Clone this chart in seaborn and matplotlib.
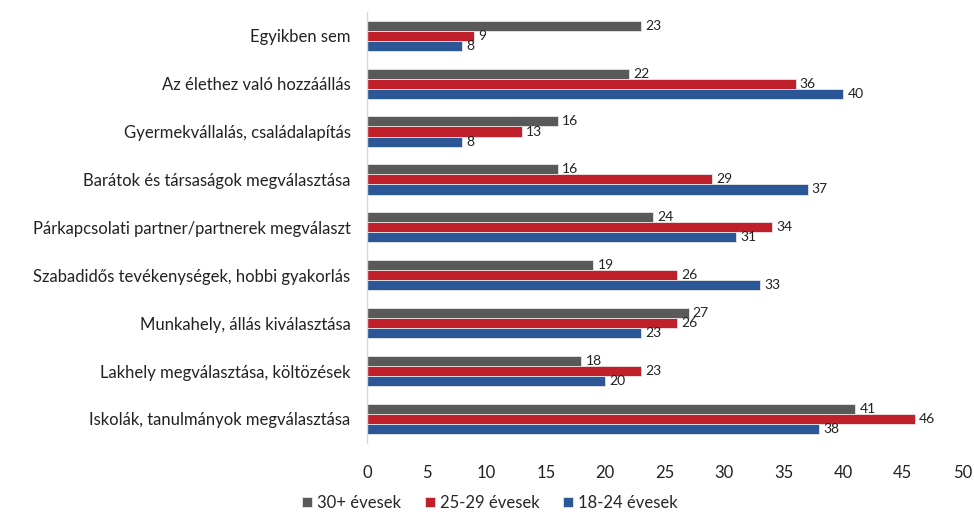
import matplotlib
matplotlib.use("Agg")
import matplotlib.pyplot as plt
import seaborn as sns
import pandas as pd

categories = [
    "Egyikben sem",
    "Az élethez való hozzáállás",
    "Gyermekvállalás, családalapítás",
    "Barátok és társaságok megválasztása",
    "Párkapcsolati partner/partnerek megválaszt",
    "Szabadidős tevékenységek, hobbi gyakorlás",
    "Munkahely, állás kiválasztása",
    "Lakhely megválasztása, költözések",
    "Iskolák, tanulmányok megválasztása",
]
series_names = ["30+ évesek", "25-29 évesek", "18-24 évesek"]
v_30plus = [23, 22, 16, 16, 24, 19, 27, 18, 41]
v_25_29 = [9, 36, 13, 29, 34, 26, 26, 23, 46]
v_18_24 = [8, 40, 8, 37, 31, 33, 23, 20, 38]
xticks = [0, 5, 10, 15, 20, 25, 30, 35, 40, 45, 50]

colors = ["#595959", "#C0202A", "#2B5797"]

rows = []
for name, vals in zip(series_names, [v_30plus, v_25_29, v_18_24]):
    for c, v in zip(categories, vals):
        rows.append({"cat": c, "series": name, "value": v})
df = pd.DataFrame(rows)

sns.set_theme(style="white")
plt.rcParams["font.family"] = ["Lato", "DejaVu Sans"]

fig = plt.figure(figsize=(9.74, 5.12), dpi=100)
ax = fig.add_axes([0.377, 0.135, 0.611, 0.842])

sns.barplot(data=df, y="cat", x="value", hue="series", order=categories,
            hue_order=series_names, palette=colors, saturation=1, orient="h",
            width=0.63, gap=0, edgecolor="#E6E6E6", linewidth=0.6,
            errorbar=None, ax=ax, legend=True)

for cont in ax.containers:
    ax.bar_label(cont, fmt="%d", padding=3, fontsize=10, color="#222222")

ax.set_xlim(0, 50)
ax.set_xticks(xticks)
ax.set_xticklabels([str(t) for t in xticks], fontsize=12, color="#222222")
ax.tick_params(axis="x", length=0, pad=16)
ax.tick_params(axis="y", length=0, pad=12, labelsize=12, labelcolor="#222222")
ax.set_xlabel("")
ax.set_ylabel("")
for s in ["top", "right", "bottom"]:
    ax.spines[s].set_visible(False)
ax.spines["left"].set_color("#D9D9D9")
ax.spines["left"].set_linewidth(1.0)
ax.grid(False)

handles, labels = ax.get_legend_handles_labels()
ax.legend_.remove()
fig.legend(handles, labels, loc="center", bbox_to_anchor=(0.503, 0.018),
           ncol=3, frameon=False, fontsize=12, handlelength=0.6,
           handleheight=0.6, handletextpad=0.3, columnspacing=1.4)

fig.savefig("out.png", dpi=100)
